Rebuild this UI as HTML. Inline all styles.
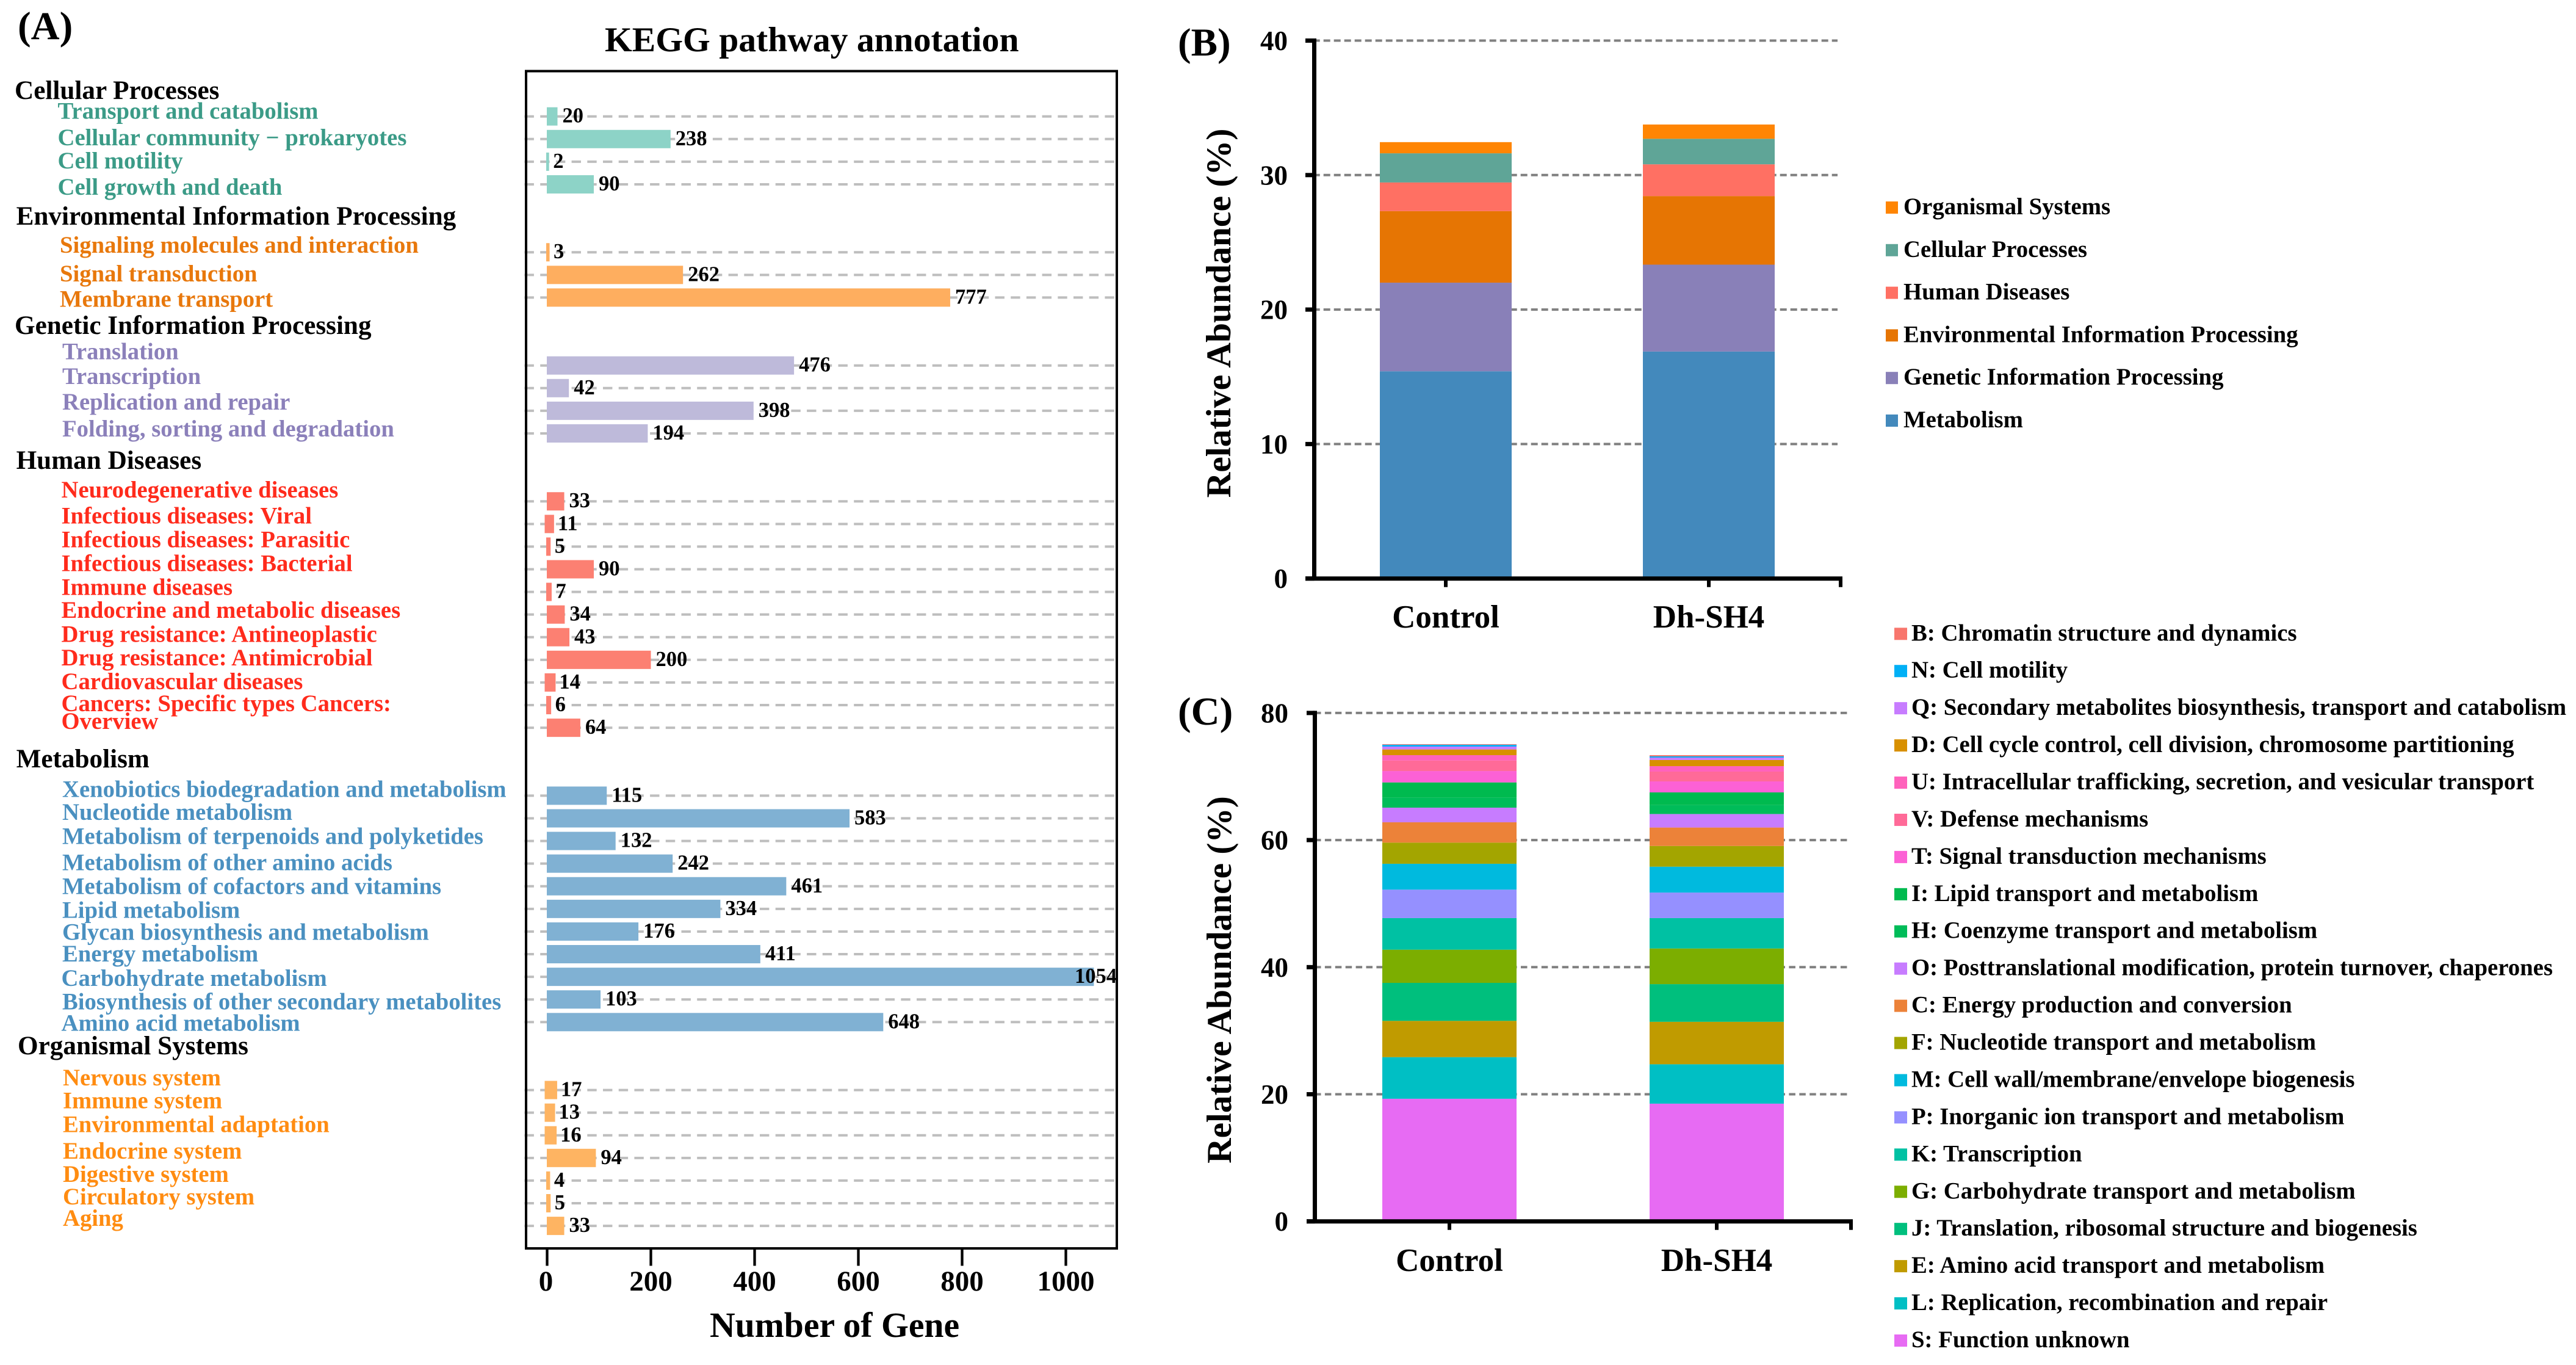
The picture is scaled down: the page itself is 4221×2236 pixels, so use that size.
<!DOCTYPE html>
<html lang="en">
<head>
<meta charset="utf-8">
<title>KEGG pathway annotation and relative abundance</title>
<style>
html,body{margin:0;padding:0;background:#fff;}
svg{display:block;font-family:"Liberation Serif",serif;font-weight:bold;}
.hdr{font-size:43.2px;fill:#000;}
.lb{font-size:38.7px;}
.cp{fill:#3b9b87;}
.ei{fill:#e8780c;}
.gi{fill:#8b80ba;}
.hd{fill:#ff2b1c;}
.me{fill:#4a90c0;}
.os{fill:#ff8c11;}
</style>
</head>
<body>
<svg id="fig" xmlns="http://www.w3.org/2000/svg" width="4221" height="2236" viewBox="0 0 4221 2236">
<rect width="4221" height="2236" fill="#fff"/>
<g id="panelA"></g>
<g id="panelB"></g>
<g id="panelC"></g>

<text x="29" y="64" font-size="65">(A)</text>
<text x="1930" y="91" font-size="65">(B)</text>
<text x="1930" y="1187" font-size="65">(C)</text>
<text x="991" y="84" font-size="57.6">KEGG pathway annotation</text>
<text x="1163" y="2190" font-size="57.7">Number of Gene</text>
<text transform="translate(2016,513) rotate(-90)" text-anchor="middle" font-size="57.6">Relative Abundance (%)</text>
<text transform="translate(2017,1605) rotate(-90)" text-anchor="middle" font-size="57.3">Relative Abundance (%)</text>

<g>
<text class="hdr" x="24" y="162">Cellular Processes</text>
<text class="lb cp" x="94.5" y="194.5">Transport and catabolism</text>
<text class="lb cp" x="94.5" y="238">Cellular community − prokaryotes</text>
<text class="lb cp" x="94.5" y="276">Cell motility</text>
<text class="lb cp" x="94.5" y="319">Cell growth and death</text>

<text class="hdr" x="26.6" y="368">Environmental Information Processing</text>
<text class="lb ei" x="98" y="414">Signaling molecules and interaction</text>
<text class="lb ei" x="98" y="461">Signal transduction</text>
<text class="lb ei" x="98" y="502.5">Membrane transport</text>

<text class="hdr" x="24" y="547">Genetic Information Processing</text>
<text class="lb gi" x="102" y="588.5">Translation</text>
<text class="lb gi" x="102" y="629">Transcription</text>
<text class="lb gi" x="102" y="671">Replication and repair</text>
<text class="lb gi" x="102" y="715">Folding, sorting and degradation</text>

<text class="hdr" x="26.6" y="768">Human Diseases</text>
<text class="lb hd" x="100.5" y="815">Neurodegenerative diseases</text>
<text class="lb hd" x="100.5" y="857.6">Infectious diseases: Viral</text>
<text class="lb hd" x="100.5" y="896.4">Infectious diseases: Parasitic</text>
<text class="lb hd" x="100.5" y="935.7">Infectious diseases: Bacterial</text>
<text class="lb hd" x="100.5" y="974.5">Immune diseases</text>
<text class="lb hd" x="100.5" y="1012">Endocrine and metabolic diseases</text>
<text class="lb hd" x="100.5" y="1051.5">Drug resistance: Antineoplastic</text>
<text class="lb hd" x="100.5" y="1090">Drug resistance: Antimicrobial</text>
<text class="lb hd" x="100.5" y="1129">Cardiovascular diseases</text>
<text class="lb hd" x="100.5" y="1165">Cancers: Specific types Cancers:</text>
<text class="lb hd" x="100.5" y="1194">Overview</text>

<text class="hdr" x="26.6" y="1257">Metabolism</text>
<text class="lb me" x="102" y="1305.6">Xenobiotics biodegradation and metabolism</text>
<text class="lb me" x="102" y="1343">Nucleotide metabolism</text>
<text class="lb me" x="102" y="1382.6">Metabolism of terpenoids and polyketides</text>
<text class="lb me" x="102" y="1425.5">Metabolism of other amino acids</text>
<text class="lb me" x="102" y="1464.5">Metabolism of cofactors and vitamins</text>
<text class="lb me" x="102" y="1503.6">Lipid metabolism</text>
<text class="lb me" x="102" y="1539.5">Glycan biosynthesis and metabolism</text>
<text class="lb me" x="102" y="1575">Energy metabolism</text>
<text class="lb me" x="100.5" y="1615">Carbohydrate metabolism</text>
<text class="lb me" x="102" y="1653.5">Biosynthesis of other secondary metabolites</text>
<text class="lb me" x="100.5" y="1688.7">Amino acid metabolism</text>

<text class="hdr" x="29" y="1727">Organismal Systems</text>
<text class="lb os" x="103" y="1778">Nervous system</text>
<text class="lb os" x="103" y="1815.5">Immune system</text>
<text class="lb os" x="103" y="1854.5">Environmental adaptation</text>
<text class="lb os" x="103" y="1898">Endocrine system</text>
<text class="lb os" x="103" y="1936">Digestive system</text>
<text class="lb os" x="103" y="1973">Circulatory system</text>
<text class="lb os" x="103" y="2008">Aging</text>
</g>
</svg>

<script>
// ---- Panel A data ----
const keggGroupNames = ["Cellular Processes","Environmental Information Processing","Genetic Information Processing","Human Diseases","Metabolism","Organismal Systems"];
const keggGroupColors = ["#8dd3c7","#feae5f","#bebada","#fc8072","#80b1d3","#feb462"];
const keggValuesCellular = [20,238,2,90];
const keggValuesEnvironmental = [3,262,777];
const keggValuesGenetic = [476,42,398,194];
const keggValuesHuman = [33,11,5,90,7,34,43,200,14,6,64];
const keggValuesMetabolism = [115,583,132,242,461,334,176,411,1054,103,648];
const keggValuesOrganismal = [17,13,16,94,4,5,33];
const keggXTicks = [0,200,400,600,800,1000];

// ---- Panel B data ----
const bCategories = ["Control","Dh-SH4"];
const bSeriesNames = ["Metabolism","Genetic Information Processing","Environmental Information Processing","Human Diseases","Cellular Processes","Organismal Systems"];
const bControl = [15.41,6.59,5.32,2.13,2.17,0.83];
const bDhSH4 = [16.88,6.46,5.1,2.36,1.9,1.06];
const bColors = ["#4389bc","#8980b8","#e67503","#ff7063","#5fa597","#ff8503"];
const bYTicks = [0,10,20,30,40];

// ---- Panel C data ----
const cCategories = ["Control","Dh-SH4"];
const cSeriesNames = ["S: Function unknown","L: Replication, recombination and repair","E: Amino acid transport and metabolism","J: Translation, ribosomal structure and biogenesis","G: Carbohydrate transport and metabolism","K: Transcription","P: Inorganic ion transport and metabolism","M: Cell wall/membrane/envelope biogenesis","F: Nucleotide transport and metabolism","C: Energy production and conversion","O: Posttranslational modification, protein turnover, chaperones","H: Coenzyme transport and metabolism","I: Lipid transport and metabolism","T: Signal transduction mechanisms","V: Defense mechanisms","U: Intracellular trafficking, secretion, and vesicular transport","D: Cell cycle control, cell division, chromosome partitioning","Q: Secondary metabolites biosynthesis, transport and catabolism","N: Cell motility","B: Chromatin structure and dynamics"];
const cControl = [19.29,6.55,5.71,5.98,5.22,4.97,4.48,4.07,3.33,3.2,2.3,1.6,2.37,1.79,1.67,0.83,0.9,0.45,0.28,0.1];
const cDhSH4 = [18.52,6.2,6.68,5.93,5.61,4.78,4.02,4.07,3.26,2.9,2.13,1.4,2.0,1.73,1.54,0.86,0.97,0.38,0.19,0.19];
const cColors = ["#e76bf3","#00bfc4","#c09b00","#00bf7d","#7cae00","#00c1a3","#9590ff","#00badE","#a3a500","#ec8239","#c77cff","#00bc59","#00ba4f","#fc61d5","#ff6a98","#ff62bc","#d89000","#c77cff","#00b0f6","#f8766d"];
const cYTicks = [0,20,40,60,80];

const SVGNS = "http://www.w3.org/2000/svg";
const fig = document.getElementById("fig");

function make(tag, attrs, parent, txt) {
  const n = document.createElementNS(SVGNS, tag);
  for (const k in attrs) n.setAttribute(k, attrs[k]);
  if (txt !== undefined) n.textContent = txt;
  parent.appendChild(n);
  return n;
}

// ---- Panel A ----
(function () {
  const g = document.getElementById("panelA");
  const frame = { l: 862, r: 1830, t: 116.5, b: 2045 };
  const xKegg = v => 896.5 + v * 0.85;
  const yKegg = i => 190.7 + i * 37.09;
  const barH = 30;
  const groups = [keggValuesCellular, keggValuesEnvironmental, keggValuesGenetic, keggValuesHuman, keggValuesMetabolism, keggValuesOrganismal];

  let row = 0;
  groups.forEach((vals, gi) => {
    vals.forEach(v => {
      const cy = yKegg(row);
      const grid = make("line", { x1: 859.5, x2: frame.r - 2, y1: cy, y2: cy, stroke: "#bebebe", "stroke-width": 4, "stroke-dasharray": "15.4 10.3" }, g);
      
      
      // very short bars are drawn slightly padded so they stay visible, as in the source figure
      const padL = v < 10 ? 1.5 : (v < 20 ? 4 : 0.5);
      const padR = v < 10 ? 1.5 : (v < 20 ? 2 : 0);
      const bar = make("rect", { x: xKegg(0) - padL, y: cy - barH / 2, width: xKegg(v) - xKegg(0) + padL + padR, height: barH, fill: keggGroupColors[gi] }, g);
      
      
      const txt = String(v);
      const tw = txt.length * 17.25;
      const fits = xKegg(v) + 8 + tw <= frame.r;
      const lab = make("text", { x: fits ? xKegg(v) + 8 : frame.r, y: cy + 10, "font-size": 34.5, "text-anchor": fits ? "start" : "end" }, g, txt);
      
      
      row += 1;
    });
    row += 2;
  });

  const box = make("rect", { x: frame.l, y: frame.t, width: frame.r - frame.l, height: frame.b - frame.t, fill: "none", stroke: "#000", "stroke-width": 4 }, g);
  
  

  keggXTicks.forEach(t => {
    const tk = make("line", { x1: xKegg(t), x2: xKegg(t), y1: frame.b, y2: 2073.5, stroke: "#000", "stroke-width": 4.3 }, g);
    
    
    const tl = make("text", { x: xKegg(t) - (t === 0 ? 2 : 0), y: 2114, "font-size": 47, "text-anchor": "middle" }, g, String(t));
    
    
  });
})();

// ---- Stacked panels ----
function drawStacked(g, o) {
  const y = v => o.y0 - v * o.pxPerUnit;

  o.yTicks.slice(1).forEach(t => {
    const grid = make("line", { x1: o.gridL, x2: o.gridR, y1: y(t), y2: y(t), stroke: "#808080", "stroke-width": 4, "stroke-dasharray": o.gridDash }, g);
    
    
  });

  o.categories.forEach((cat, ci) => {
    let acc = 0;
    o.columns[ci].forEach((v, si) => {
      const seg = make("rect", { x: o.barX[ci], y: y(acc + v), width: o.barW, height: y(acc) - y(acc + v), fill: o.colors[si] }, g);
      
      
      acc += v;
    });
    const cx = o.barX[ci] + o.barW / 2;
    const tk = make("line", { x1: cx, x2: cx, y1: o.y0, y2: o.y0 + 14, stroke: "#000", "stroke-width": 6 }, g);
    
    
    const lab = make("text", { x: cx, y: o.catY, "font-size": 53, "text-anchor": "middle" }, g, cat);
    
    
  });

  const endTick = make("line", { x1: o.axisEnd, x2: o.axisEnd, y1: o.y0, y2: o.y0 + 14, stroke: "#000", "stroke-width": 6 }, g);
  
  

  const xAxis = make("line", { x1: o.tickL, x2: o.axisEnd + 3, y1: o.y0, y2: o.y0, stroke: "#000", "stroke-width": 7 }, g);
  
  
  const yAxis = make("line", { x1: o.axisX, x2: o.axisX, y1: y(o.yTicks[o.yTicks.length - 1]) - 3.5, y2: o.y0, stroke: "#000", "stroke-width": 7 }, g);
  
  

  o.yTicks.forEach(t => {
    const tk = make("line", { x1: o.tickL, x2: o.axisX, y1: y(t), y2: y(t), stroke: "#000", "stroke-width": 7 }, g);
    
    
    const tl = make("text", { x: o.labelR, y: y(t) + 15.5, "font-size": 45, "text-anchor": "end" }, g, String(t));
    
    
  });

  const n = o.names.length;
  o.names.forEach((name, si) => {
    const cy = o.legendY + (n - 1 - si) * o.legendStep;
    const sw = make("rect", { x: o.swatchX, y: cy - o.swatchH / 2, width: o.swatchW, height: o.swatchH, fill: o.colors[si] }, g);
    
    
    const lt = make("text", { x: o.legendTextX, y: cy + o.swatchH / 2 + 1, "font-size": o.legendFont }, g, name);
    
    
  });
}

drawStacked(document.getElementById("panelB"), {
  categories: bCategories, names: bSeriesNames, colors: bColors,
  columns: [bControl, bDhSH4], yTicks: bYTicks,
  y0: 947.7, pxPerUnit: 22.03, gridDash: "11 6",
  gridL: 2151.7, gridR: 3011, barX: [2261, 2692], barW: 216,
  axisX: 2153.5, tickL: 2139, axisEnd: 3016, labelR: 2110, catY: 1028,
  legendY: 340, legendStep: 69.8, swatchX: 3090, swatchW: 20, swatchH: 20,
  legendTextX: 3119, legendFont: 38.75
});

drawStacked(document.getElementById("panelC"), {
  categories: cCategories, names: cSeriesNames, colors: cColors,
  columns: [cControl, cDhSH4], yTicks: cYTicks,
  y0: 2000.7, pxPerUnit: 10.41, gridDash: "10.5 6.4",
  gridL: 2154, gridR: 3031, barX: [2265, 2703], barW: 220,
  axisX: 2154.5, tickL: 2141, axisEnd: 3033, labelR: 2111, catY: 2082,
  legendY: 1038.3, legendStep: 60.93, swatchX: 3104, swatchW: 21, swatchH: 20,
  legendTextX: 3132, legendFont: 38.75
});
</script>
</body>
</html>
